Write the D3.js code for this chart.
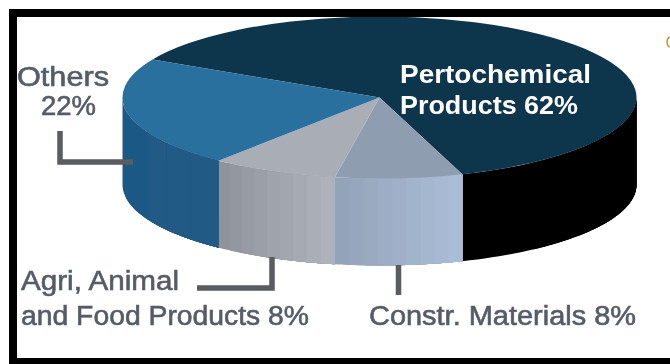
<!DOCTYPE html>
<html><head><meta charset="utf-8">
<script src="https://cdn.jsdelivr.net/npm/d3@7/dist/d3.min.js"></script>
<style>html,body{margin:0;padding:0;background:#fff;overflow:hidden}svg{display:block}
text{font-family:"Liberation Sans",Arial,sans-serif}</style></head>
<body><svg id="c" width="670" height="364"></svg>
<script>
const categories = ["Pertochemical Products","Constr. Materials","Agri, Animal and Food Products","Others"];
const values = [62, 8, 8, 22];
const topColors = ["#10364c","#8f9db1","#a9adb6","#2b6f9f"];
const sideFrom = ["#000000","#93a3ba","#8f939c","#1f5985"];
const sideTo = ["#000000","#abbdd6","#aeb2bb","#205a86"];
const stripSteps = [4,9,9,6];
const labels = [
  {lines:[{t:"Pertochemical",x:400,y:83,w:191},{t:"Products 62%",x:400,y:114,w:178}],fill:"#ffffff",weight:"bold",size:26,halo:0},
  {lines:[{t:"Others",x:17,y:86,w:92},{t:"22%",x:41,y:115,w:55}],fill:"#545c68",weight:"normal",size:27,halo:0.6},
  {lines:[{t:"Agri, Animal",x:21,y:290,w:158},{t:"and Food Products 8%",x:21,y:325,w:288}],fill:"#545c68",weight:"normal",size:27,halo:0.6},
  {lines:[{t:"Constr. Materials 8%",x:369,y:325,w:267}],fill:"#545c68",weight:"normal",size:27,halo:0.6}
];
const leaders = [
  [[60,131],[60,162],[133,162]],
  [[197,288],[272,288],[272,257]],
  [[398.5,265],[398.5,295]]
];

const svg = d3.select("#c");
const defs = svg.append("defs");
defs.append("filter").attr("id","soft").append("feGaussianBlur").attr("stdDeviation",0.45);
const root = svg.append("g").attr("filter","url(#soft)");

const cx = 379.5, cy = 97.5, rx = 257, ry = 81, depth = 87;
const toRad = d3.scaleLinear().domain([0,360]).range([0,2*Math.PI]);
const start = toRad(298);
const pie = d3.pie().sort(null).startAngle(start).endAngle(start+2*Math.PI)(values);
const arc = d3.arc().innerRadius(0).outerRadius(rx);
const px = a => cx + rx*Math.sin(a), py = a => cy - ry*Math.cos(a);

// side walls: only the front half of the rim shows
const frontA = toRad(90), frontB = toRad(270);
pie.forEach((s,i)=>{
  const ranges = [];
  for (const k of [0,2*Math.PI]) {
    const a0 = Math.max(s.startAngle, frontA+k), a1 = Math.min(s.endAngle, frontB+k);
    if (a1 > a0) ranges.push([a0,a1]);
  }
  ranges.forEach(([a0,a1])=>{
    const color = d3.interpolateRgb(sideFrom[i], sideTo[i]);
    const n = stripSteps[i];
    const area = d3.area().x(a=>px(a)).y0(a=>py(a)).y1(a=>py(a)+depth);
    // strips run left to right on screen; each one reaches to the far end so no seams show
    d3.range(n).forEach(j=>{
      const b1 = a1-(a1-a0)*j/n;
      const pts = d3.range(0,41).map(q=>a0+(b1-a0)*q/40);
      root.append("path").attr("d",area(pts)).attr("fill",color(n>1?j/(n-1):0));
    });
  });
});

// top face
const face = root.append("g").attr("transform",`translate(${cx},${cy}) scale(1,${ry/rx})`);
face.selectAll("path").data(pie).join("path")
  .attr("d",arc).attr("fill",(d,i)=>topColors[i]);

// leaders
const line = d3.line();
root.selectAll("path.leader").data(leaders).join("path").attr("class","leader")
  .attr("d",line).attr("fill","none").attr("stroke","#5a5b5f").attr("stroke-width",5.5);

// labels
labels.forEach(l=>l.lines.forEach(o=>{
  root.append("text").attr("x",o.x).attr("y",o.y)
    .attr("font-size",l.size).attr("font-weight",l.weight).attr("fill",l.fill)
    .attr("stroke",l.fill).attr("stroke-width",l.halo)
    .attr("textLength",o.w).attr("lengthAdjust","spacingAndGlyphs").text(o.t);
}));

// frame
const frame = svg.append("g").attr("fill","#000");
frame.append("rect").attr("x",9).attr("y",9).attr("width",661).attr("height",8);
frame.append("rect").attr("x",9).attr("y",9).attr("width",8).attr("height",355);
frame.append("rect").attr("x",9).attr("y",358).attr("width",661).attr("height",6);
// clipped glyph fragment at the right edge of the source image
svg.append("path").attr("d","M670,37 Q667,38 667,42 Q667,46 670,47").attr("fill","none")
  .attr("stroke","#c8963c").attr("stroke-width",1.5);
</script></body></html>
